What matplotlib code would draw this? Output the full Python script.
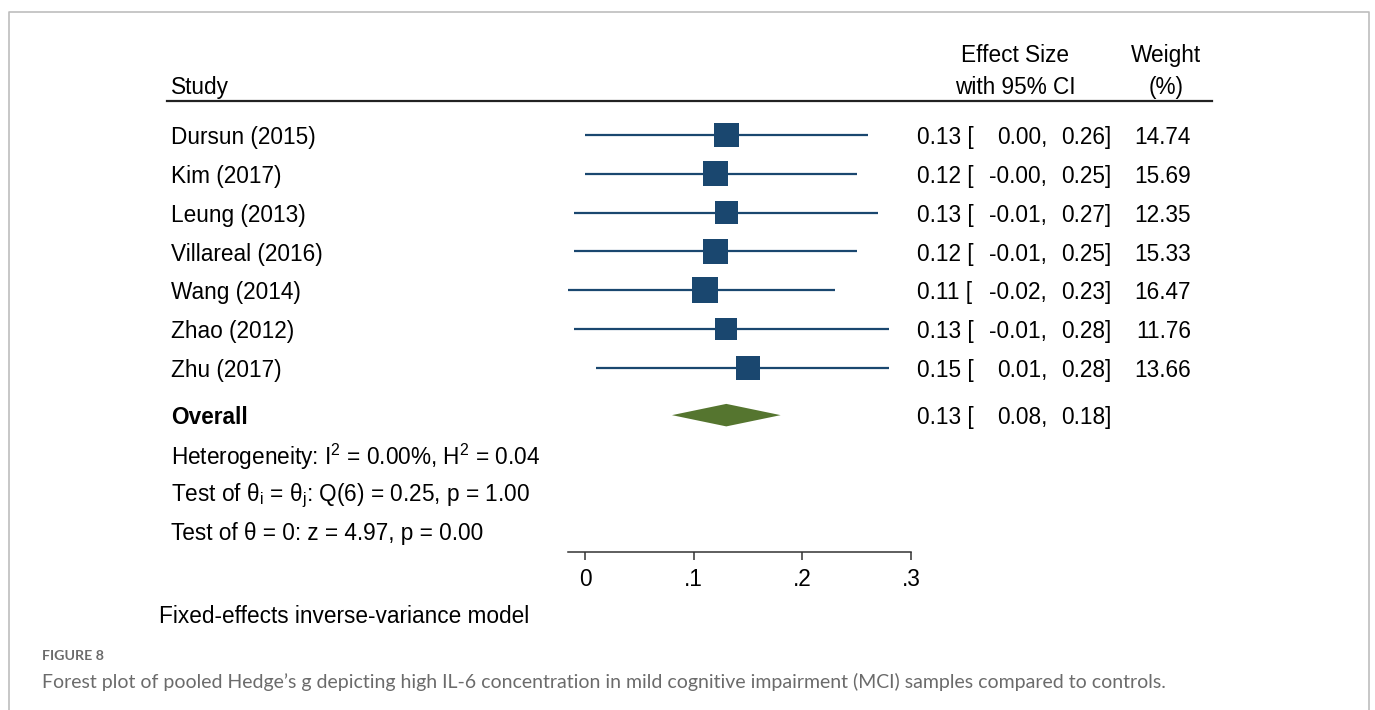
import matplotlib
matplotlib.use('Agg')
import matplotlib.pyplot as plt
from matplotlib import transforms
from matplotlib.lines import Line2D
from matplotlib.patches import Polygon

plt.rcParams['font.family'] = ['Liberation Sans', 'DejaVu Sans']
plt.rcParams['mathtext.fontset'] = 'custom'
plt.rcParams['mathtext.rm'] = 'Liberation Sans'
plt.rcParams['mathtext.it'] = 'Liberation Sans'
plt.rcParams['mathtext.default'] = 'regular'

# study-level estimates (Hedges' g) with 95% CI and weights
studies = ['Dursun (2015)', 'Kim (2017)', 'Leung (2013)', 'Villareal (2016)',
           'Wang (2014)', 'Zhao (2012)', 'Zhu (2017)']
effect = [0.13, 0.12, 0.13, 0.12, 0.11, 0.13, 0.15]
ci_low = [0.00, -0.00, -0.01, -0.01, -0.02, -0.01, 0.01]
ci_high = [0.26, 0.25, 0.27, 0.25, 0.23, 0.28, 0.28]
weight = [14.74, 15.69, 12.35, 15.33, 16.47, 11.76, 13.66]

# pooled estimate: effect, lower, upper
overall = [0.13, 0.08, 0.18]

stats_lines = [r'Heterogeneity: I$^{2}$ = 0.00%, H$^{2}$ = 0.04',
               r'Test of θ$_{i}$ = θ$_{j}$: Q(6) = 0.25, p = 1.00',
               'Test of θ = 0: z = 4.97, p = 0.00']

x_ticks = [0, 0.1, 0.2, 0.3]
x_ticklabels = ['0', '.1', '.2', '.3']

NAVY = '#1a476f'
GREEN = '#55752f'
FS = 16.3

W, H = 1375, 710


def fx(px):
    return px / W


def fy(py):
    # +2.5 px: matplotlib's 'center' sits a little high for this font
    return 1 - (py + 2.5) / H


fig = plt.figure(figsize=(W / 100, H / 100), dpi=100)
fig.patch.set_facecolor('white')

# plot panel: rows run downward from 0
ax = fig.add_axes([fx(568), 1 - 552 / H, fx(911) - fx(568), (552 - 101) / H])
ax.set_xlim(-0.0157, 0.3)
ax.set_ylim(10.747, -0.876)
ax.patch.set_alpha(0)
for s in ['left', 'top', 'right']:
    ax.spines[s].set_visible(False)
ax.spines['bottom'].set_color('#333333')
ax.spines['bottom'].set_linewidth(1.1)
ax.set_yticks([])
ax.set_xticks(x_ticks)
ax.set_xticklabels(x_ticklabels, fontsize=FS)
ax.tick_params(axis='x', direction='out', length=5.5, width=1.1, color='#333333', pad=6)

rows = list(range(len(studies)))
overall_row = 7.22
stats_rows = [8.22, 9.23, 10.2]
TDY = 0.07  # text nudge (rows)

ax.hlines(rows, ci_low, ci_high, color=NAVY, lw=1.6, zorder=2)
ax.scatter(effect, rows, s=[21.2 * w for w in weight], marker='s',
           color=NAVY, linewidths=0, zorder=3)

est, lo, hi = overall
dh = 0.29
ax.add_patch(Polygon([(lo, overall_row), (est, overall_row - dh),
                      (hi, overall_row), (est, overall_row + dh)],
                     closed=True, color=GREEN, lw=0, zorder=3))

# text columns share the panel's row positions
trans = transforms.blended_transform_factory(fig.transFigure, ax.transData)

for r, name in zip(rows, studies):
    ax.text(fx(171), r + TDY, name, transform=trans, fontsize=FS, va='center', ha='left')
ax.text(fx(171), overall_row + TDY, 'Overall', transform=trans, fontsize=FS,
        fontweight='bold', va='center', ha='left')
for r, line in zip(stats_rows, stats_lines):
    ax.text(fx(171), r + TDY, line, transform=trans, fontsize=FS, va='center', ha='left')

all_rows = rows + [overall_row]
all_est = effect + [overall[0]]
all_lo = ci_low + [overall[1]]
all_hi = ci_high + [overall[2]]
for r, e, l, h in zip(all_rows, all_est, all_lo, all_hi):
    ax.text(fx(917), r + TDY, f'{e:.2f} [', transform=trans, fontsize=FS, va='center', ha='left')
    ax.text(fx(1047), r + TDY, f'{l:.2f},', transform=trans, fontsize=FS, va='center', ha='right')
    ax.text(fx(1111), r + TDY, f'{h:.2f}]', transform=trans, fontsize=FS, va='center', ha='right')
for r, w in zip(rows, weight):
    ax.text(fx(1191), r + TDY, f'{w:.2f}', transform=trans, fontsize=FS, va='center', ha='right')

# header
fig.text(fx(171), fy(85), 'Study', fontsize=FS, va='center', ha='left')
fig.text(fx(1015), fy(53), 'Effect Size', fontsize=FS, va='center', ha='center')
fig.text(fx(1015), fy(85), 'with 95% CI', fontsize=FS, va='center', ha='center')
fig.text(fx(1166), fy(53), 'Weight', fontsize=FS, va='center', ha='center')
fig.text(fx(1166), fy(85), '(%)', fontsize=FS, va='center', ha='center')
fig.add_artist(Line2D([fx(167), fx(1212)], [1 - 101 / H, 1 - 101 / H],
                      color='#222222', lw=1.6))

fig.text(fx(159), fy(614), 'Fixed-effects inverse-variance model', fontsize=FS,
         va='center', ha='left')

# surrounding frame (open at the bottom)
fig.add_artist(Line2D([fx(9), fx(9), fx(1369), fx(1369)],
                      [0, 1 - 11.5 / H, 1 - 11.5 / H, 0], color='#bdbdbd', lw=1.2))

# caption
fig.text(fx(42), fy(654), 'FIGURE 8', fontsize=10.3, color='#6b6b6b',
         fontfamily='Lato', fontweight='bold', va='center', ha='left')
fig.text(fx(42), fy(679),
         'Forest plot of pooled Hedge\u2019s g depicting high IL-6 concentration in mild '
         'cognitive impairment (MCI) samples compared to controls.',
         fontsize=14.0, color='#6b6b6b', fontfamily='Lato', va='center', ha='left')

fig.savefig('out.png', dpi=100)
